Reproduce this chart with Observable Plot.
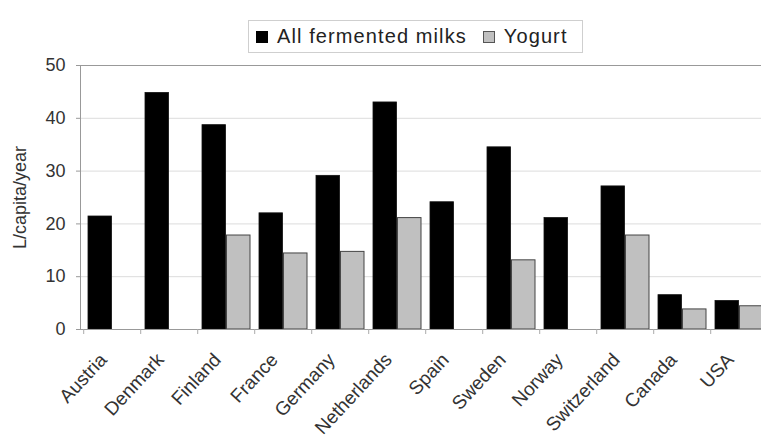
<!DOCTYPE html>
<html>
<head>
<meta charset="utf-8">
<script src="https://cdn.jsdelivr.net/npm/d3@7"></script>
<script src="https://cdn.jsdelivr.net/npm/@observablehq/plot@0.6"></script>
<style>
  html, body { margin: 0; padding: 0; background: white; }
  body { width: 761px; height: 442px; overflow: hidden; font-family: "Liberation Sans", Arial, sans-serif; }
  #legend-row { position: relative; height: 40px; z-index: 2; }
  #legend {
    position: absolute; left: 248px; top: 20px; width: 333px; height: 31px;
    border: 1px solid #cfcfcf; background: white; box-sizing: content-box;
    display: flex; align-items: center; font-size: 20px; letter-spacing: 1.1px; color: #222;
  }
  .sw { display: inline-block; width: 12px; height: 12px; box-sizing: border-box; margin: 0 9px 0 0; }
  .item { display: flex; align-items: center; }
  #chart { position: relative; z-index: 1; }
  #chart svg { display: block; }
</style>
</head>
<body>
<div id="legend-row"><div id="legend"></div></div>
<div id="chart"></div>
<script>
// Fermented milk consumption per country (L/capita/year)
const countries = ["Austria", "Denmark", "Finland", "France", "Germany", "Netherlands", "Spain", "Sweden", "Norway", "Switzerland", "Canada", "USA"];
const fermented = [21.4, 44.8, 38.7, 22.0, 29.1, 43.0, 24.1, 34.5, 21.1, 27.1, 6.5, 5.4];
const yogurt = [null, null, 17.8, 14.4, 14.7, 21.1, null, 13.1, null, 17.8, 3.8, 4.4];
const seriesNames = ["All fermented milks", "Yogurt"];
const seriesColors = ["#000000", "#c0c0c0"];
const yTicks = [0, 10, 20, 30, 40, 50];

const fermentedRows = countries.map((c, i) => ({country: c, value: fermented[i]}));
const yogurtRows = countries.map((c, i) => ({country: c, value: yogurt[i]})).filter(d => d.value != null);

// Legend
const legend = document.getElementById("legend");
seriesNames.forEach((name, i) => {
  const item = document.createElement("span");
  item.className = "item";
  item.style.marginLeft = i === 0 ? "7px" : "16px";
  const sw = document.createElement("span");
  sw.className = "sw";
  sw.style.background = seriesColors[i];
  sw.style.border = i === 0 ? "1px solid #000" : "1px solid #555";
  item.appendChild(sw);
  item.appendChild(document.createTextNode(name));
  legend.appendChild(item);
});

const width = 761, height = 402;
const marginLeft = 80, marginRight = -10;
const step = (width - marginRight - marginLeft) / countries.length;
const half = step * 0.85 / 2;

const chart = Plot.plot({
  width, height,
  marginTop: 25, marginBottom: 113, marginLeft, marginRight,
  style: {fontFamily: "'Liberation Sans', Arial, sans-serif", fontSize: "17px", color: "#333", background: "transparent", overflow: "hidden"},
  x: {type: "band", domain: countries, paddingInner: 0.15, paddingOuter: 0.075},
  y: {domain: [0, 50]},
  marks: [
    Plot.gridY([10, 20, 30, 40], {stroke: "#dcdcdc", strokeOpacity: 1}),
    Plot.barY(fermentedRows, {x: "country", y: "value", fill: seriesColors[0], stroke: "#111", strokeWidth: 0.8, insetRight: half}),
    Plot.barY(yogurtRows, {x: "country", y: "value", fill: seriesColors[1], stroke: "#444", strokeWidth: 1, insetLeft: half}),
    Plot.frame({stroke: "#999"}),
    Plot.axisY({ticks: yTicks, tickSize: 4, tickPadding: 11, fontSize: 18, stroke: "#999", color: "#333",
      label: "L/capita/year", labelAnchor: "center", labelArrow: "none", labelOffset: 67}),
    Plot.axisX({tickSize: 5, tickFormat: () => "", stroke: "#aaa", dx: -step / 2, label: null}),
    Plot.text(countries, {x: d => d, y: () => 0, dy: 27, dx: -9, rotate: -47, textAnchor: "end", lineAnchor: "middle", fontSize: 19, fill: "#333"})
  ]
});
document.getElementById("chart").appendChild(chart);
</script>
</body>
</html>
